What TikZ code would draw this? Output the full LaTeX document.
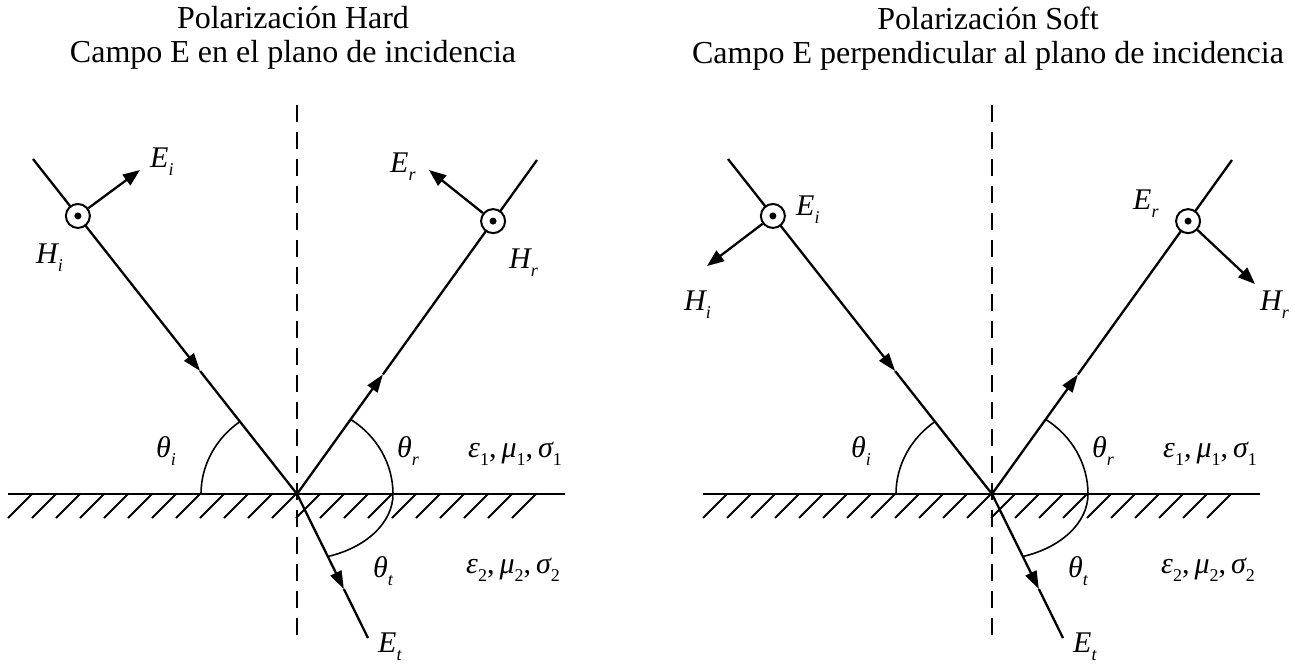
\documentclass[tikz,border=0pt]{standalone}
\usepackage{fontspec}
\setmainfont{Liberation Serif}
\usetikzlibrary{arrows.meta,calc}
\tikzset{
ray/.style={line width=2.3pt},
raytip/.style={ray, -{Triangle[length=18pt,width=12pt]}},
fieldarrow/.style={-{Triangle[length=17pt,width=13pt]}, line width=2.3pt},
spinbox/.style={circle, draw, fill=white, line width=2pt, minimum size=24pt, inner sep=0pt},
normalline/.style={dash pattern=on 17pt off 10pt, line width=2pt},
surface/.style={line width=2.2pt},
hatchline/.style={line width=2pt},
anglearc/.style={line width=1.6pt},
titlebox/.style={align=center, inner sep=0pt, anchor=north, font=\fontsize{32}{34}\selectfont},
labelbox/.style={inner sep=0pt, anchor=base west, font=\fontsize{30}{30}\selectfont\itshape}
}
\newcommand{\lsub}[1]{\raisebox{-8pt}{\fontsize{18}{18}\selectfont #1}}

\begin{document}
\begin{tikzpicture}[x=1pt,y=-1pt]
\useasboundingbox (0,0) rectangle (1304,664);

% Hard
\node[titlebox] (tith) at (293,6.5) {Polarización Hard\\Campo E en el plano de incidencia};
\coordinate (oh) at (297,494);
\coordinate (inch) at (33,159);
\coordinate (refh) at (537,160);
\coordinate (trah) at (368,638);
\coordinate (nth) at (297,105);
\coordinate (nbh) at (297,638);
\coordinate (sfl) at (8,494);
\coordinate (sfr) at (565,494);

\draw[surface] (sfl) -- (sfr);
\foreach \k in {0,...,21}
  \draw[hatchline] ({8+24*\k},518) -- ({32+24*\k},494);
\draw[normalline] (nth) -- (nbh);

\coordinate (aih) at ($(inch)!0.633!(oh)$);
\coordinate (arh) at ($(oh)!0.358!(refh)$);
\coordinate (ath) at ($(oh)!0.66!(trah)$);
\draw[raytip] (inch) -- (aih);
\draw[ray] (aih) -- (oh);
\draw[raytip] (oh) -- (arh);
\draw[ray] (arh) -- (refh);
\draw[raytip] (oh) -- (ath);
\draw[ray] (ath) -- (trah);

\draw[anglearc] ($(oh)+(-96,0)$) arc[start angle=180, end angle=126.5, x radius=96pt, y radius=90pt];
\draw[anglearc] ($(oh)+(96,0)$) arc[start angle=0, end angle=56, x radius=96pt, y radius=90pt];
\draw[anglearc] ($(oh)+(96,0)$) arc[start angle=0, end angle=-71.3, x radius=96pt, y radius=66pt];

\node[spinbox] (cih) at ($(inch)!0.17!(oh)$) {};
\node[spinbox] (crh) at ($(oh)!0.817!(refh)$) {};
\fill (cih.center) circle (3.5pt);
\fill (crh.center) circle (3.5pt);
\coordinate (eih) at (140,170);
\coordinate (erh) at (429,170);
\draw[fieldarrow] (cih) -- (eih);
\draw[fieldarrow] (crh) -- (erh);

\node[labelbox] (leih) at (150,167) {E\lsub{i}};
\node[labelbox] (lhih) at (36,263) {H\lsub{i}};
\node[labelbox] (lerh) at (390,172) {E\lsub{r}};
\node[labelbox] (lhrh) at (509,268) {H\lsub{r}};
\node[labelbox] (ltih) at (156,457) {θ\lsub{i}};
\node[labelbox] (ltrh) at (397,457) {θ\lsub{r}};
\node[labelbox] (ltth) at (373,577) {θ\lsub{t}};
\node[labelbox] (leth) at (378,652) {E\lsub{t}};
\node[labelbox] (mu1h) at (468,457) {ε\lsub{\upshape 1}{\upshape ,\,}μ\lsub{\upshape 1}{\upshape ,\,}σ\lsub{\upshape 1}};
\node[labelbox] (mu2h) at (466,573) {ε\lsub{\upshape 2}{\upshape ,\,}μ\lsub{\upshape 2}{\upshape ,\,}σ\lsub{\upshape 2}};

% Soft
\node[titlebox] (tits) at (988,6.5) {Polarización Soft\\Campo E perpendicular al plano de incidencia};
\coordinate (os) at (992,494);
\coordinate (incs) at (728,159);
\coordinate (refs) at (1232,160);
\coordinate (tras) at (1063,638);
\coordinate (nts) at (992,105);
\coordinate (nbs) at (992,638);
\coordinate (ssl) at (703,494);
\coordinate (ssr) at (1260,494);

\draw[surface] (ssl) -- (ssr);
\foreach \k in {0,...,21}
  \draw[hatchline] ({703+24*\k},518) -- ({727+24*\k},494);
\draw[normalline] (nts) -- (nbs);

\coordinate (ais) at ($(incs)!0.633!(os)$);
\coordinate (ars) at ($(os)!0.358!(refs)$);
\coordinate (ats) at ($(os)!0.66!(tras)$);
\draw[raytip] (incs) -- (ais);
\draw[ray] (ais) -- (os);
\draw[raytip] (os) -- (ars);
\draw[ray] (ars) -- (refs);
\draw[raytip] (os) -- (ats);
\draw[ray] (ats) -- (tras);

\draw[anglearc] ($(os)+(-96,0)$) arc[start angle=180, end angle=126.5, x radius=96pt, y radius=90pt];
\draw[anglearc] ($(os)+(96,0)$) arc[start angle=0, end angle=56, x radius=96pt, y radius=90pt];
\draw[anglearc] ($(os)+(96,0)$) arc[start angle=0, end angle=-71.3, x radius=96pt, y radius=66pt];

\node[spinbox] (cis) at ($(incs)!0.17!(os)$) {};
\node[spinbox] (crs) at ($(os)!0.817!(refs)$) {};
\fill (cis.center) circle (3.5pt);
\fill (crs.center) circle (3.5pt);
\coordinate (his) at (707,266);
\coordinate (hrs) at (1255,284);
\draw[fieldarrow] (cis) -- (his);
\draw[fieldarrow] (crs) -- (hrs);

\node[labelbox] (leis) at (796,215) {E\lsub{i}};
\node[labelbox] (lhis) at (684,310) {H\lsub{i}};
\node[labelbox] (lers) at (1133,209) {E\lsub{r}};
\node[labelbox] (lhrs) at (1260,310) {H\lsub{r}};
\node[labelbox] (ltis) at (851,457) {θ\lsub{i}};
\node[labelbox] (ltrs) at (1092,457) {θ\lsub{r}};
\node[labelbox] (ltts) at (1068,577) {θ\lsub{t}};
\node[labelbox] (lets) at (1073,652) {E\lsub{t}};
\node[labelbox] (mu1s) at (1163,457) {ε\lsub{\upshape 1}{\upshape ,\,}μ\lsub{\upshape 1}{\upshape ,\,}σ\lsub{\upshape 1}};
\node[labelbox] (mu2s) at (1161,573) {ε\lsub{\upshape 2}{\upshape ,\,}μ\lsub{\upshape 2}{\upshape ,\,}σ\lsub{\upshape 2}};
\end{tikzpicture}
\end{document}
